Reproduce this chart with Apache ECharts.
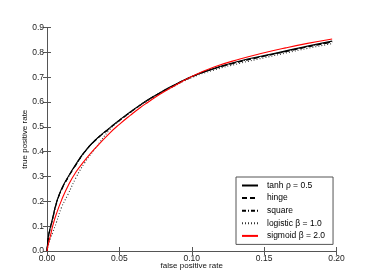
<!DOCTYPE html>
<html>
<head>
<meta charset="utf-8">
<script src="https://cdn.jsdelivr.net/npm/echarts@6/dist/echarts.min.js"></script>
<style>
  html, body { margin: 0; padding: 0; background: #fff; }
  #chart { width: 374px; height: 280px; }
</style>
</head>
<body>
<div id="chart"></div>
<script>
// shared false positive rate grid
var fpr = [0, 0.001, 0.0025, 0.004, 0.0065, 0.01, 0.0145, 0.02, 0.026, 0.033, 0.0435, 0.05,
           0.0575, 0.0643, 0.07, 0.078, 0.085, 0.1, 0.115, 0.1333, 0.15, 0.165, 0.18, 0.197];
var tprTanh     = [0, 0.06, 0.1, 0.135, 0.195, 0.25, 0.298, 0.35, 0.4, 0.445, 0.497, 0.527,
                   0.56, 0.588, 0.61, 0.637, 0.66, 0.703, 0.735, 0.765, 0.787, 0.806, 0.825, 0.845];
var tprHinge    = [0, 0.058, 0.098, 0.133, 0.193, 0.247, 0.296, 0.348, 0.398, 0.443, 0.495, 0.525,
                   0.558, 0.587, 0.609, 0.636, 0.658, 0.701, 0.733, 0.762, 0.784, 0.803, 0.822, 0.841];
var tprSquare   = [0, 0.055, 0.095, 0.13, 0.19, 0.245, 0.295, 0.347, 0.398, 0.444, 0.496, 0.526,
                   0.559, 0.587, 0.609, 0.636, 0.659, 0.702, 0.733, 0.763, 0.785, 0.804, 0.823, 0.842];
var tprLogistic = [0, 0.025, 0.052, 0.075, 0.115, 0.175, 0.228, 0.295, 0.355, 0.41, 0.49, 0.524,
                   0.557, 0.587, 0.607, 0.633, 0.655, 0.698, 0.728, 0.756, 0.778, 0.797, 0.816, 0.835];
var tprSigmoid  = [0, 0.03, 0.065, 0.102, 0.15, 0.204, 0.262, 0.318, 0.364, 0.412, 0.476, 0.51,
                   0.546, 0.577, 0.6, 0.631, 0.655, 0.703, 0.74, 0.773, 0.798, 0.818, 0.836, 0.854];
var seriesNames = ['tanh ρ = 0.5', 'hinge', 'square', 'logistic β = 1.0', 'sigmoid β = 2.0'];

function pairs(ys) {
    return fpr.map(function(x, i) { return [x, ys[i]]; });
}

var font = 'Liberation Sans, Arial, sans-serif';
var frame = '#555';

function mkSeries(name, ys, color, type) {
    return {
        name: name,
        type: 'line',
        data: pairs(ys),
        showSymbol: false,
        symbol: 'none',
        smooth: 0.5,
        lineStyle: { color: color, width: 1.1, type: type },
        itemStyle: { color: color },
        z: 3
    };
}

var chart = echarts.init(document.getElementById('chart'), null, { renderer: 'canvas' });
var option = {
    animation: false,
    backgroundColor: '#fff',
    textStyle: { fontFamily: font },
    grid: { left: 47, right: 37.5, top: 27.5, bottom: 29 },
    legend: {
        orient: 'vertical',
        left: 236,
        top: 177,
        width: 90,
        padding: [4, 8, 4, 5],
        itemWidth: 16,
        itemHeight: 10,
        itemGap: 3.6,
        backgroundColor: '#fff',
        borderColor: frame,
        borderWidth: 1,
        itemStyle: { opacity: 0 },
        data: seriesNames,
        textStyle: { fontSize: 8.5, color: '#000', fontFamily: font, padding: [0, 0, 0, 4] }
    },
    xAxis: [{
        type: 'value', min: 0, max: 0.2, interval: 0.05,
        name: 'false positive rate', nameLocation: 'middle', nameGap: 11,
        nameMoveOverlap: false,
        nameTextStyle: { fontSize: 8, color: '#111' },
        axisLine: { lineStyle: { color: frame } },
        axisTick: { inside: true, length: 4, lineStyle: { color: frame } },
        axisLabel: { fontSize: 8.5, color: '#222', margin: 3, formatter: function(v) { return v.toFixed(2); } },
        splitLine: { show: false }
    }, {
        type: 'value', min: 0, max: 0.2, interval: 0.05, position: 'top',
        axisLine: { lineStyle: { color: frame } },
        axisTick: { inside: true, length: 4, lineStyle: { color: frame } },
        axisLabel: { show: false },
        splitLine: { show: false }
    }],
    yAxis: [{
        type: 'value', min: 0, max: 0.9, interval: 0.1,
        name: 'true positive rate', nameLocation: 'middle', nameGap: 18,
        nameMoveOverlap: false,
        nameTextStyle: { fontSize: 8, color: '#111' },
        axisLine: { show: true, lineStyle: { color: frame } },
        axisTick: { show: true, inside: true, length: 4, lineStyle: { color: frame } },
        axisLabel: { fontSize: 8.5, color: '#222', margin: 3, formatter: function(v) { return v.toFixed(1); } },
        splitLine: { show: false }
    }, {
        type: 'value', min: 0, max: 0.9, interval: 0.1, position: 'right',
        axisLine: { show: true, lineStyle: { color: frame } },
        axisTick: { show: true, inside: true, length: 4, lineStyle: { color: frame } },
        axisLabel: { show: false },
        splitLine: { show: false }
    }],
    series: [
        mkSeries(seriesNames[0], tprTanh, '#000', 'solid'),
        mkSeries(seriesNames[1], tprHinge, '#000', [5, 3]),
        mkSeries(seriesNames[2], tprSquare, '#000', [4, 2, 1, 2]),
        mkSeries(seriesNames[3], tprLogistic, '#333', [1, 2]),
        mkSeries(seriesNames[4], tprSigmoid, '#ff0000', 'solid')
    ]
};
chart.setOption(option);
</script>
</body>
</html>
